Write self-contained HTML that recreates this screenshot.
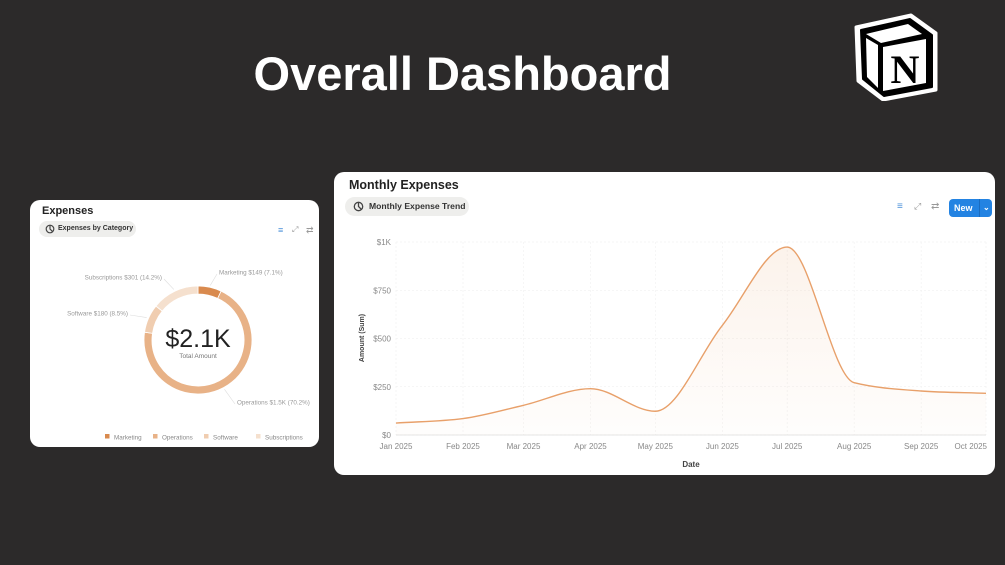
<!DOCTYPE html>
<html><head><meta charset="utf-8">
<style>
*{margin:0;padding:0;box-sizing:border-box}
body{width:1005px;height:565px;background:#2c2a2a;position:relative;overflow:hidden;font-family:"Liberation Sans",sans-serif}
.card{position:absolute;background:#fff;border-radius:10px}
.abs{position:absolute;white-space:nowrap}
</style></head><body>
<div class="abs" style="left:0;width:925px;top:46px;text-align:center;color:#fff;font-weight:bold;font-size:47px;line-height:56px">Overall Dashboard</div>

<svg class="abs" style="left:853px;top:13px" width="86" height="88" viewBox="0 0 86 88">
<path d="M3 14 L58 2 L83 20 L83 77 L30 87 L5 68 Z" fill="#fff" stroke="#fff" stroke-width="3" stroke-linejoin="round"/>
<path d="M8 17 L57 6 L79 22 L79 74 L31 83 L10 66 Z" fill="#000" stroke="#000" stroke-width="2" stroke-linejoin="round"/>
<path d="M13 21 L55 11 L69 21 L28 30 Z" fill="#fff"/>
<path d="M13 25 L25 32 L25 75 L14 64 Z" fill="#fff"/>
<path d="M30 34 L73 26 L73 70 L30 78 Z" fill="#fff"/>
<text x="52" y="70" text-anchor="middle" font-family="Liberation Serif,serif" font-weight="bold" font-size="40" fill="#000">N</text>
</svg>

<div class="card" style="left:30px;top:200px;width:289px;height:247px">
  <div class="abs" style="left:12px;top:5px;font-size:11px;font-weight:bold;color:#222">Expenses</div>
  <div class="abs" style="left:9px;top:21px;width:97px;height:16px;border-radius:8px;background:#eeeeec;font-size:7px;font-weight:bold;color:#333;line-height:16px;padding-left:19px">Expenses by Category
    <svg class="abs" style="left:6px;top:3px" width="10" height="10"><circle cx="5" cy="5" r="3.8" fill="none" stroke="#444" stroke-width="1.2"/><path d="M5 1.2V5L7.7 7.7" stroke="#444" stroke-width="1.2" fill="none"/></svg></div>
  <div class="abs" style="left:248px;top:25px;font-size:9px;color:#4a90d9">≡</div>
  <div class="abs" style="left:262px;top:25px;font-size:8px;color:#999">⤢</div>
  <div class="abs" style="left:276px;top:25px;font-size:9px;color:#999">⇄</div>
  <svg class="abs" style="left:0;top:0" width="289" height="247" id="donut"></svg>
</div>

<div class="card" style="left:334px;top:172px;width:661px;height:303px">
  <div class="abs" style="left:15px;top:6px;font-size:12.5px;font-weight:bold;color:#222">Monthly Expenses</div>
  <div class="abs" style="left:11px;top:25px;width:124px;height:19px;border-radius:10px;background:#eeeeec;font-size:8.6px;font-weight:bold;color:#333;line-height:19px;padding-left:24px">Monthly Expense Trend
    <svg class="abs" style="left:8px;top:4px" width="11" height="11"><circle cx="5.5" cy="5.5" r="4.2" fill="none" stroke="#444" stroke-width="1.3"/><path d="M5.5 1.3V5.5L8.5 8.5" stroke="#444" stroke-width="1.3" fill="none"/></svg></div>
  <div class="abs" style="left:563px;top:29px;font-size:10px;color:#4a90d9">≡</div>
  <div class="abs" style="left:580px;top:29px;font-size:9px;color:#999">⤢</div>
  <div class="abs" style="left:597px;top:29px;font-size:10px;color:#999">⇄</div>
  <div class="abs" style="left:615px;top:27px;width:43px;height:18px;border-radius:4px;background:#2383e2;color:#fff;font-size:9px;font-weight:bold;line-height:18px;padding-left:5px">New<span style="position:absolute;left:30px;top:0;height:18px;border-left:1px solid #1a6cc0;padding-left:3px;font-size:8px">⌄</span></div>
</div>
<svg class="abs" style="left:0;top:0" width="1005" height="565" id="line"></svg>

<script>
const NS="http://www.w3.org/2000/svg";
function mk(p,t,a){const e=document.createElementNS(NS,t);for(const k in a)e.setAttribute(k,a[k]);p.appendChild(e);return e;}

// ---- donut data
const catNames=["Marketing","Operations","Software","Subscriptions"];
const catValues=[149,1490,180,301];
const catLabels=["Marketing $149 (7.1%)","Operations $1.5K (70.2%)","Software $180 (8.5%)","Subscriptions $301 (14.2%)"];
const catColors=["#d98a4e","#e8b287","#f0cdb0","#f5e0ce"];
const totalLabel="$2.1K";

const d=document.getElementById('donut');
const cx=168,cy=140,R=54,r=46;
const total=catValues.reduce((a,b)=>a+b,0);
let ang=0;
const labelPos=[[189,72,"start"],[207,202,"start"],[98,113,"end"],[132,77,"end"]];
catValues.forEach((v,i)=>{
  const a0=ang,a1=ang+v/total*2*Math.PI;ang=a1;
  const p=(a,rr)=>[cx+rr*Math.sin(a),cy-rr*Math.cos(a)];
  const [x0,y0]=p(a0,R),[x1,y1]=p(a1,R),[x2,y2]=p(a1,r),[x3,y3]=p(a0,r);
  const lg=a1-a0>Math.PI?1:0;
  const s=mk(d,'path',{d:`M${x0},${y0}A${R},${R} 0 ${lg} 1 ${x1},${y1}L${x2},${y2}A${r},${r} 0 ${lg} 0 ${x3},${y3}Z`,fill:catColors[i],stroke:'#fff','stroke-width':0.8});
  
  
  const am=(a0+a1)/2,[mx,my]=p(am,R+2);
  const lp=labelPos[i];
  const ex=lp[2]=="start"?lp[0]-2:lp[0]+2;
  mk(d,'line',{x1:mx,y1:my,x2:ex,y2:lp[1]+2,stroke:'#ddd','stroke-width':0.6});
  const t=mk(d,'text',{x:lp[0],y:lp[1]+2.5,'text-anchor':lp[2],'font-size':6.3,fill:'#999'});t.textContent=catLabels[i];
  
  
  const lx=[75,123,174,226][i];
  mk(d,'rect',{x:lx,y:234,width:4.5,height:4.5,fill:catColors[i]});
  const lt=mk(d,'text',{x:lx+9,y:239.5,'font-size':6.3,fill:'#888'});lt.textContent=catNames[i];
  
  
});
const tt=mk(d,'text',{x:cx,y:147,'text-anchor':'middle','font-size':25,fill:'#222'});tt.textContent=totalLabel;


const ts=mk(d,'text',{x:cx,y:158,'text-anchor':'middle','font-size':6.5,fill:'#777'});ts.textContent="Total Amount";

// ---- line chart data
const months=["Jan 2025","Feb 2025","Mar 2025","Apr 2025","May 2025","Jun 2025","Jul 2025","Aug 2025","Sep 2025","Oct 2025"];
const dayOffsets=[0,31,59,90,120,151,181,212,243,273];
const amounts=[62,85,154,240,123,568,974,271,228,216];
const yTicks=[0,250,500,750,1000];
const yTickLabels=["$0","$250","$500","$750","$1K"];

const L=document.getElementById('line');
const X0=396,X1=986,Y0=435,Y1=242;
const xs=v=>X0+(v/dayOffsets[dayOffsets.length-1])*(X1-X0);
const ys=v=>Y0-(v/1000)*(Y0-Y1);
const defs=mk(L,'defs',{});
const g=mk(defs,'linearGradient',{id:'gr',x1:0,y1:0,x2:0,y2:1});
mk(g,'stop',{offset:0,'stop-color':'#e8a670','stop-opacity':0.14});
mk(g,'stop',{offset:1,'stop-color':'#e8a670','stop-opacity':0.02});
yTicks.forEach((v,i)=>{
  mk(L,'line',{x1:X0,x2:X1,y1:ys(v),y2:ys(v),stroke:'#eeeeee','stroke-width':0.6,'stroke-dasharray':'2,2'});
  const t=mk(L,'text',{x:X0-5,y:ys(v)+3,'text-anchor':'end','font-size':8,fill:'#888'});t.textContent=yTickLabels[i];
  
  
});
dayOffsets.forEach((dd,i)=>{
  mk(L,'line',{x1:xs(dd),x2:xs(dd),y1:Y1,y2:Y0,stroke:'#f0f0f0','stroke-width':0.6,'stroke-dasharray':'2,2'});
  const anchor=i==months.length-1?'end':'middle';
  const t=mk(L,'text',{x:i==months.length-1?X1+1:xs(dd),y:Y0+14,'text-anchor':anchor,'font-size':8,fill:'#888'});t.textContent=months[i];
  
  
});
mk(L,'line',{x1:X0,x2:X1,y1:Y0,y2:Y0,stroke:'#ddd','stroke-width':0.8});
const xt=mk(L,'text',{x:691,y:467,'text-anchor':'middle','font-size':8,'font-weight':'bold',fill:'#444'});xt.textContent="Date";


const yt=mk(L,'text',{x:0,y:0,transform:'translate(364,338) rotate(-90)','text-anchor':'middle','font-size':7,'font-weight':'bold',fill:'#444'});yt.textContent="Amount (Sum)";



// monotone cubic
const px=dayOffsets.map(xs),py=amounts.map(ys),n=px.length;
const sl=[];for(let i=0;i<n-1;i++)sl.push((py[i+1]-py[i])/(px[i+1]-px[i]));
const m=[sl[0]];
for(let i=1;i<n-1;i++){if(sl[i-1]*sl[i]<=0)m.push(0);else{const h0=px[i]-px[i-1],h1=px[i+1]-px[i];const t0=(sl[i-1]*h1+sl[i]*h0)/(h0+h1);m.push(t0*Math.min(1,2*Math.min(Math.abs(sl[i-1]),Math.abs(sl[i]))/Math.abs(t0)));}}
m.push(sl[n-2]);
let path=`M${px[0]},${py[0]}`;
for(let i=0;i<n-1;i++){const h=(px[i+1]-px[i])/3;path+=`C${px[i]+h},${py[i]+m[i]*h} ${px[i+1]-h},${py[i+1]-m[i+1]*h} ${px[i+1]},${py[i+1]}`;}
const area=mk(L,'path',{d:path+`L${px[n-1]},${Y0}L${px[0]},${Y0}Z`,fill:'url(#gr)'});


const ln=mk(L,'path',{d:path,fill:'none',stroke:'#e8a06a','stroke-width':1.4});


</script>
</body></html>
